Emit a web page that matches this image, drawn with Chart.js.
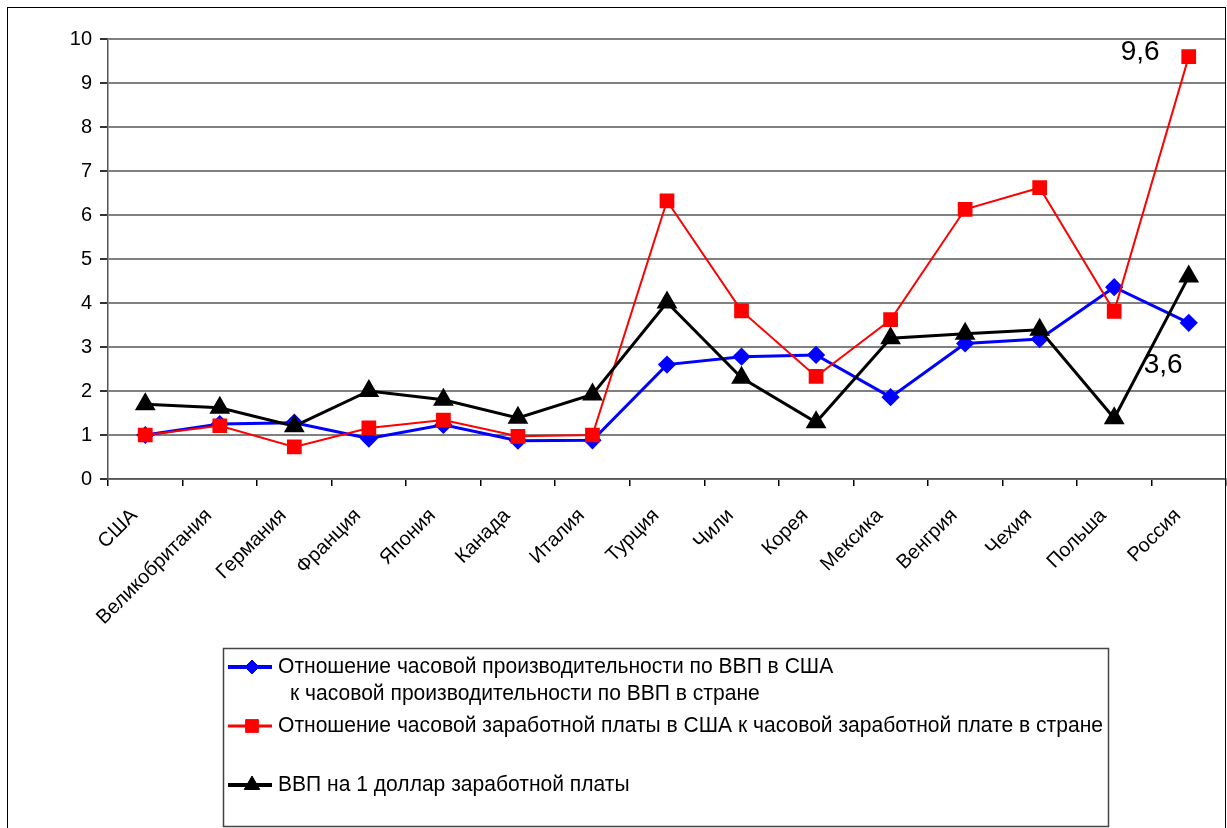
<!DOCTYPE html>
<html>
<head>
<meta charset="utf-8">
<script src="https://cdn.jsdelivr.net/npm/chart.js@4"></script>
<style>
  body { margin: 0; background: #fff; }
  #wrap { position: relative; width: 1227px; height: 828px; }
</style>
</head>
<body>
<div id="wrap"><canvas id="chart" width="1227" height="828"></canvas></div>
<script>
// chart data
const countries = ['США', 'Великобритания', 'Германия', 'Франция', 'Япония', 'Канада', 'Италия',
  'Турция', 'Чили', 'Корея', 'Мексика', 'Венгрия', 'Чехия', 'Польша', 'Россия'];
const productivityRatio = [1.0, 1.25, 1.28, 0.92, 1.23, 0.87, 0.88, 2.6, 2.78, 2.82, 1.86, 3.08, 3.18, 4.36, 3.55];
const wageRatio = [1.0, 1.21, 0.73, 1.16, 1.34, 0.97, 1.0, 6.32, 3.82, 2.33, 3.62, 6.13, 6.62, 3.81, 9.6];
const gdpPerDollar = [1.7, 1.62, 1.2, 2.0, 1.8, 1.39, 1.92, 4.01, 2.3, 1.29, 3.2, 3.3, 3.39, 1.38, 4.6];
const yTicks = [0, 1, 2, 3, 4, 5, 6, 7, 8, 9, 10];
const seriesNames = [
  ['Отношение часовой производительности по ВВП в США', 'к часовой производительности по ВВП в стране'],
  ['Отношение часовой заработной платы в США к часовой заработной плате в стране'],
  ['ВВП на 1 доллар заработной платы']
];
const valueNotes = [
  { text: '9,6', series: 1, index: 14, dx: -68, dy: -4 },
  { text: '3,6', series: 0, index: 14, dx: -45, dy: 42 }
];

const baseFont = 'Liberation Sans, Arial, sans-serif';
const legendFont = '22px "Liberation Sans Narrow", "Liberation Sans", Arial, sans-serif';

const framePlugin = {
  id: 'frame',
  afterDraw(chart) {
    const ctx = chart.ctx;
    ctx.save();
    ctx.strokeStyle = '#000';
    ctx.lineWidth = 1;
    ctx.strokeRect(7.5, 7.5, 1218, 840);

    // value notes
    ctx.fillStyle = '#000';
    ctx.font = '28px ' + baseFont;
    ctx.textBaseline = 'middle';
    ctx.textAlign = 'left';
    valueNotes.forEach(n => {
      const pt = chart.getDatasetMeta(n.series).data[n.index];
      ctx.fillText(n.text, pt.x + n.dx, pt.y + n.dy);
    });

    // legend box
    const bx = 223, by = 648, bw = 885, bh = 178;
    ctx.fillStyle = '#fff';
    ctx.fillRect(bx, by, bw, bh);
    ctx.strokeStyle = '#444';
    ctx.lineWidth = 1.5;
    ctx.strokeRect(bx + 0.5, by + 0.5, bw, bh);

    ctx.font = legendFont;
    const squeeze = 825 / ctx.measureText(seriesNames[1][0]).width;
    const rows = [667, 726, 785];
    chart.data.datasets.forEach((ds, i) => {
      const y = rows[i];
      ctx.strokeStyle = ds.borderColor;
      ctx.lineWidth = ds.borderWidth + 1;
      ctx.beginPath();
      ctx.moveTo(228, y);
      ctx.lineTo(272, y);
      ctx.stroke();
      ctx.fillStyle = ds.pointBackgroundColor;
      ctx.strokeStyle = ds.pointBackgroundColor;
      ctx.lineWidth = 1;
      Chart.helpers.drawPoint(ctx, { pointStyle: ds.pointStyle, radius: ds.pointRadius, rotation: 0, borderWidth: 1 }, 252, y);
      ctx.fillStyle = '#000';
      ctx.textAlign = 'left';
      ctx.textBaseline = 'middle';
      seriesNames[i].forEach((line, k) => {
        ctx.save();
        ctx.translate(278 + (k ? 12 : 0), y + k * 27);
        ctx.scale(squeeze, 1);
        ctx.fillText(line, 0, 0);
        ctx.restore();
      });
    });
    ctx.restore();
  }
};

new Chart(document.getElementById('chart'), {
  type: 'line',
  data: {
    labels: countries,
    datasets: [
      {
        label: seriesNames[0].join(' '),
        data: productivityRatio,
        borderColor: '#0000ff',
        backgroundColor: '#0000ff',
        pointBackgroundColor: '#0000ff',
        pointBorderColor: '#0000ff',
        borderWidth: 3,
        pointStyle: 'rectRot',
        pointRadius: 7,
        order: 3
      },
      {
        label: seriesNames[1].join(' '),
        data: wageRatio,
        borderColor: '#ff0000',
        backgroundColor: '#ff0000',
        pointBackgroundColor: '#ff0000',
        pointBorderColor: '#ff0000',
        borderWidth: 2,
        pointStyle: 'rect',
        pointRadius: 9,
        order: 2
      },
      {
        label: seriesNames[2].join(' '),
        data: gdpPerDollar,
        borderColor: '#000000',
        backgroundColor: '#000000',
        pointBackgroundColor: '#000000',
        pointBorderColor: '#000000',
        borderWidth: 3,
        pointStyle: 'triangle',
        pointRadius: 9,
        order: 1
      }
    ]
  },
  options: {
    responsive: false,
    animation: false,
    layout: { autoPadding: false, padding: { top: 39, right: 1, left: 0, bottom: 0 } },
    plugins: { legend: { display: false }, tooltip: { enabled: false } },
    elements: { line: { tension: 0 } },
    scales: {
      x: {
        offset: true,
        grid: { offset: true, drawOnChartArea: false, drawTicks: true, tickLength: 7, color: '#000', lineWidth: 1.5 },
        border: { color: '#555', width: 1.5 },
        ticks: {
          autoSkip: false,
          maxRotation: 45,
          minRotation: 45,
          color: '#000',
          padding: 18,
          labelOffset: -11,
          font: { family: baseFont, size: 20 }
        },
        afterFit(scale) {
          scale.height = 349;
          scale.paddingLeft = 0;
          scale.paddingRight = 0;
        }
      },
      y: {
        min: 0,
        max: 10,
        afterBuildTicks(scale) { scale.ticks = yTicks.map(v => ({ value: v })); },
        grid: { color: '#808080', lineWidth: 2, tickLength: 8, tickColor: '#333', drawTicks: true },
        border: { color: '#555', width: 1.5 },
        ticks: {
          color: '#000',
          padding: 8,
          font: { family: baseFont, size: 20 }
        },
        afterFit(scale) { scale.width = 108; }
      }
    }
  },
  plugins: [framePlugin]
});
</script>
</body>
</html>
